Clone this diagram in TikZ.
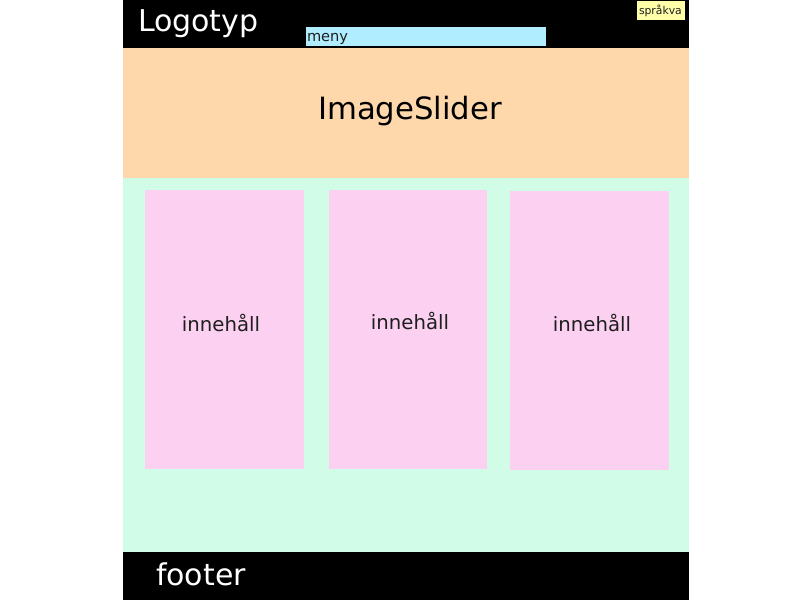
\documentclass[tikz,border=0pt]{standalone}
\usepackage{fontspec}
\setmainfont{DejaVu Sans}
\definecolor{peach}{RGB}{254,215,171}
\definecolor{mint}{RGB}{208,252,232}
\definecolor{pinkbox}{RGB}{252,208,240}
\definecolor{menyblue}{RGB}{176,238,255}
\definecolor{langyellow}{RGB}{255,255,170}
\definecolor{inktext}{RGB}{30,30,30}
\begin{document}
\begin{tikzpicture}[x=1pt,y=-1pt,
  label/.style={inner sep=0pt, outer sep=0pt},
  bigtext/.style={label, font=\fontsize{30}{30}\selectfont},
  boxtext/.style={label, text=inktext, font=\fontsize{19.7}{20}\selectfont},
  contentbox/.style={fill=pinkbox}]
\useasboundingbox (0,0) rectangle (800,600);
\fill[white] (0,0) rectangle (800,600);
% header, slider, main area, footer
\fill[black] (123,0) rectangle (689,48);
\fill[peach] (123,48) rectangle (689,178);
\fill[mint] (123,178) rectangle (689,552);
\fill[black] (123,552) rectangle (689,600);
% menu bar and language switch
\fill[menyblue] (306,27) rectangle (546,46);
\fill[langyellow] (637,1) rectangle (685,20);
% three content columns
\fill[contentbox] (145,190) rectangle (304,469);
\fill[contentbox] (329,190) rectangle (487,469);
\fill[contentbox] (510,191) rectangle (669,470);
% texts
\node[bigtext, text=white, anchor=base west] (logo) at (138,31) {Logotyp};
\node[label, text=inktext, anchor=base west, font=\fontsize{14.6}{15}\selectfont] (meny) at (307,41) {meny};
\node[label, text=inktext, anchor=base west, font=\fontsize{10.8}{11}\selectfont] (lang) at (639,14) {språkva};
\node[label, text=black, anchor=base, font=\fontsize{30.7}{31}\selectfont] (slider) at (410,119) {ImageSlider};
\node[boxtext, anchor=base] (c1) at (221,331) {innehåll};
\node[boxtext, anchor=base] (c2) at (410,329) {innehåll};
\node[boxtext, anchor=base] (c3) at (592,331) {innehåll};
\node[bigtext, text=white, anchor=base west] (foot) at (156,585) {footer};
\end{tikzpicture}
\end{document}
